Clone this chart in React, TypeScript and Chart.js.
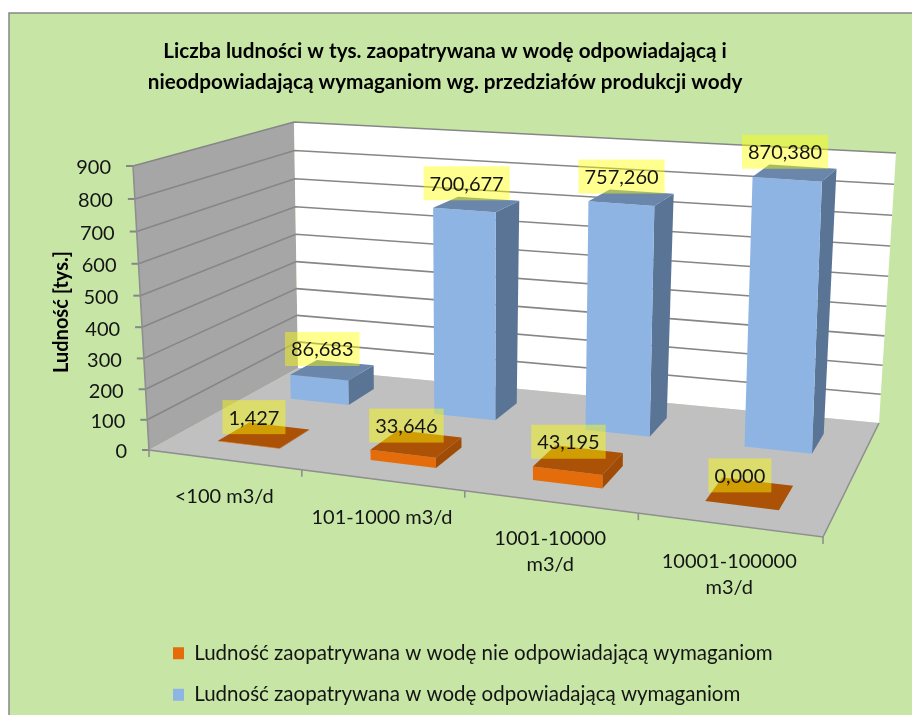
import React, { useEffect, useRef } from "react";
import { Chart, BarController, BarElement, CategoryScale, LinearScale, Title, Legend } from "chart.js";

const categories = ["<100 m3/d", "101-1000 m3/d", ["1001-10000", "m3/d"], ["10001-100000", "m3/d"]];
const nonCompliant = [1.427, 33.646, 43.195, 0];
const compliant = [86.683, 700.677, 757.26, 870.38];
const yTicks = { min: 0, max: 900, stepSize: 100 };
const seriesNames = [
  "Ludność zaopatrywana w wodę nie odpowiadającą wymaganiom",
  "Ludność zaopatrywana w wodę odpowiadającą wymaganiom",
];
const titleLines = [
  "Liczba ludności w tys. zaopatrywana w wodę odpowiadającą i",
  "nieodpowiadającą wymaganiom wg. przedziałów produkcji wody",
];
const yTitle = "Ludność [tys.]";

const FONT = "Lato, Carlito, sans-serif";
const depthBands = [
  [0.15, 0.35],
  [0.64, 0.84],
];
const labelLift = [18, 21];
const faceColors = [
  { front: "#e46c0a", top: "#ab5206", side: "#a04c06" },
  { front: "#8eb4e3", top: "#6a87ab", side: "#5a7496" },
];

// Box corners in picture space: (x fraction, depth, height fraction)
const A = [149, 450], E = [823, 537], F = [879, 423], C = [298, 368];
const vA = [-16, -284], vE = [2, -307], vF = [17, -270], vC = [-4, -246];

const den = (E[0] - F[0]) * (C[1] - F[1]) - (C[0] - F[0]) * (E[1] - F[1]);
const sx = A[0] - E[0] + F[0] - C[0];
const sy = A[1] - E[1] + F[1] - C[1];
const g = (sx * (C[1] - F[1]) - (C[0] - F[0]) * sy) / den;
const h = ((E[0] - F[0]) * sy - sx * (E[1] - F[1])) / den;
const ha = E[0] - A[0] + g * E[0], hb = C[0] - A[0] + h * C[0];
const hd = E[1] - A[1] + g * E[1], he = C[1] - A[1] + h * C[1];

function project(u0: number, v: number, t: number) {
  const u = u0 + 0.09 * u0 * (1 - u0);
  const w = g * u + h * v + 1;
  const px = (ha * u + hb * v + A[0]) / w;
  const py = (hd * u + he * v + A[1]) / w;
  const tt = t / (t + (1 - t) * 1.05 || 1);
  const mix = (i: number) =>
    (1 - u) * (1 - v) * vA[i] + u * (1 - v) * vE[i] + u * v * vF[i] + (1 - u) * v * vC[i];
  return [px + mix(0) * tt, py + mix(1) * tt];
}

function poly(ctx: CanvasRenderingContext2D, pts: number[][], fill: string) {
  ctx.beginPath();
  pts.forEach((p, i) => (i ? ctx.lineTo(p[0], p[1]) : ctx.moveTo(p[0], p[1])));
  ctx.closePath();
  ctx.fillStyle = fill;
  ctx.fill();
}

function line(ctx: CanvasRenderingContext2D, pts: number[][], color: string, width: number) {
  ctx.beginPath();
  pts.forEach((p, i) => (i ? ctx.lineTo(p[0], p[1]) : ctx.moveTo(p[0], p[1])));
  ctx.strokeStyle = color;
  ctx.lineWidth = width;
  ctx.stroke();
}

const fracT = (s: any, value: number) => (s.bottom - s.getPixelForValue(value)) / (s.bottom - s.top);
const fracU = (s: any, px: number) => (px - s.left) / (s.right - s.left);

class Bar3DController extends BarController {
  static id = "bar3d";
  draw() {
    const chart: any = this.chart;
    const ctx = chart.ctx;
    const meta = this.getMeta();
    const xs = chart.scales.x;
    const ys = chart.scales.y;
    const band = depthBands[this.index];
    const col = faceColors[this.index];
    const [v0, v1] = band;
    meta.data.forEach((el: any) => {
      const u0 = fracU(xs, el.x - el.width / 2);
      const u1 = fracU(xs, el.x + el.width / 2);
      const t = (ys.bottom - el.y) / (ys.bottom - ys.top);
      const fb0 = project(u0, v0, 0), fb1 = project(u1, v0, 0), bb1 = project(u1, v1, 0);
      const ft0 = project(u0, v0, t), ft1 = project(u1, v0, t), bt1 = project(u1, v1, t), bt0 = project(u0, v1, t);
      poly(ctx, [fb1, bb1, bt1, ft1], col.side);
      poly(ctx, [fb0, fb1, ft1, ft0], col.front);
      poly(ctx, [ft0, ft1, bt1, bt0], col.top);
    });
  }
}

const backdrop = {
  id: "backdrop",
  beforeDraw(chart: any) {
    const ctx = chart.ctx;
    ctx.save();
    ctx.fillStyle = "#ffffff";
    ctx.fillRect(0, 0, chart.width, chart.height);
    ctx.fillStyle = "#c7e6a6";
    ctx.fillRect(9, 13, chart.width - 9, chart.height - 13);
    line(ctx, [[9, chart.height], [9, 13], [chart.width, 13]], "#868686", 1.5);
    ctx.restore();
  },
  afterLayout(chart: any) {
    chart.titleBlock.left = 0;
    chart.titleBlock.right = 890;
    chart.legend.left = 152;
  },
  beforeDatasetsDraw(chart: any) {
    const ctx = chart.ctx;
    const ys = chart.scales.y;
    const xs = chart.scales.x;
    ctx.save();
    poly(ctx, [project(0, 0, 0), project(0, 1, 0), project(0, 1, 1), project(0, 0, 1)], "#a6a6a6");
    poly(ctx, [project(0, 1, 0), project(1, 1, 0), project(1, 1, 1), project(0, 1, 1)], "#ffffff");
    ys.ticks.forEach((tk: any) => {
      const t = fracT(ys, tk.value);
      const a = project(0, 0, t), b = project(0, 1, t), c = project(1, 1, t);
      if (tk.value > 0) line(ctx, [a, b, c], "#868686", 1.6);
      line(ctx, [[a[0] - 7, a[1]], a], "#868686", 2);
      ctx.font = `20px ${FONT}`;
      ctx.fillStyle = "#141414";
      ctx.textAlign = "right";
      ctx.textBaseline = "middle";
      ctx.fillText(tk.label, a[0] - 22, a[1] + 2);
    });
    poly(ctx, [project(0, 0, 0), project(1, 0, 0), project(1, 1, 0), project(0, 1, 0)], "#c0c0c0");
    line(ctx, [project(0, 0, 1), project(0, 0, 0), project(1, 0, 0), project(1, 1, 0)], "#8f8f8f", 1.6);
    const n = chart.data.labels.length;
    for (let i = 0; i <= n; i++) {
      const p = project(i / n, 0, 0);
      line(ctx, [p, [p[0], p[1] + 7]], "#8f8f8f", 1.6);
    }
    chart.data.labels.forEach((lab: any, i: number) => {
      const u = fracU(xs, xs.getPixelForTick(i));
      const p = project(u, 0, 0);
      const rows = Array.isArray(lab) ? lab : [lab];
      ctx.font = `20px ${FONT}`;
      ctx.fillStyle = "#141414";
      ctx.textAlign = "center";
      ctx.textBaseline = "middle";
      rows.forEach((r: string, k: number) => ctx.fillText(r, p[0], p[1] + 37 + k * 26));
    });
    ctx.restore();
  },
  afterDatasetsDraw(chart: any) {
    const ctx = chart.ctx;
    const xs = chart.scales.x;
    const ys = chart.scales.y;
    ctx.save();
    ctx.font = `20px ${FONT}`;
    ctx.textAlign = "center";
    ctx.textBaseline = "middle";
    [1, 0].forEach((ds) => {
      const [v0, v1] = depthBands[ds];
      chart.getDatasetMeta(ds).data.forEach((el: any, i: number) => {
        const value = chart.data.datasets[ds].data[i];
        const t = fracT(ys, value);
        const p = project(fracU(xs, el.x), (v0 + v1) / 2, t);
        const cx = p[0] - 10;
        const cy = p[1] - labelLift[ds];
        const text = value.toFixed(3).replace(".", ",");
        const w = ctx.measureText(text).width + 12;
        ctx.fillStyle = "rgba(255,255,0,0.44)";
        ctx.fillRect(cx - w / 2, cy - 17, w, 34);
        ctx.fillStyle = "#141414";
        ctx.fillText(text, cx, cy + 1);
      });
    });
    ctx.restore();
  },
};

Chart.register(Bar3DController, BarController, BarElement, CategoryScale, LinearScale, Title, Legend);

export default function App() {
  const ref = useRef<HTMLCanvasElement>(null);
  useEffect(() => {
    const chart = new Chart(ref.current!, {
      type: "bar3d" as any,
      data: {
        labels: categories as any,
        datasets: [
          { label: seriesNames[0], data: nonCompliant, backgroundColor: faceColors[0].front, clip: false },
          { label: seriesNames[1], data: compliant, backgroundColor: faceColors[1].front, clip: false },
        ],
      },
      plugins: [backdrop],
      options: {
        responsive: false,
        animation: false,
        grouped: false,
        barPercentage: 0.41,
        categoryPercentage: 1,
        layout: { padding: { right: 89, bottom: 0, left: 0, top: 0 } },
        plugins: {
          tooltip: { enabled: false },
          title: {
            display: true,
            text: titleLines,
            color: "#000",
            font: { family: FONT, size: 20.7, weight: "bold", lineHeight: 1.4976 },
            padding: { top: 36, bottom: 68 },
          },
          legend: {
            display: true,
            position: "bottom",
            align: "start",
            labels: {
              boxWidth: 11,
              boxHeight: 12,
              padding: 21,
              color: "#141414",
              font: { family: FONT, size: 20.5 },
            },
          },
        },
        scales: {
          x: {
            type: "category",
            grid: { display: false },
            border: { display: false },
            ticks: { display: false },
            afterFit(s: any) { s.height = 164; },
          },
          y: {
            type: "linear",
            min: yTicks.min,
            max: yTicks.max,
            ticks: { display: false, stepSize: yTicks.stepSize },
            grid: { display: false },
            border: { display: false },
            title: {
              display: true,
              text: yTitle,
              color: "#000",
              font: { family: FONT, size: 20, weight: "bold" },
              padding: { top: 50, bottom: 0 },
            },
            afterFit(s: any) { s.width = 149; },
          },
        },
      } as any,
    });
    return () => chart.destroy();
  }, []);
  return (
    <canvas
      ref={ref}
      width={912}
      height={715}
      style={{ position: "absolute", left: 0, top: 0, width: 912, height: 715 }}
    />
  );
}
